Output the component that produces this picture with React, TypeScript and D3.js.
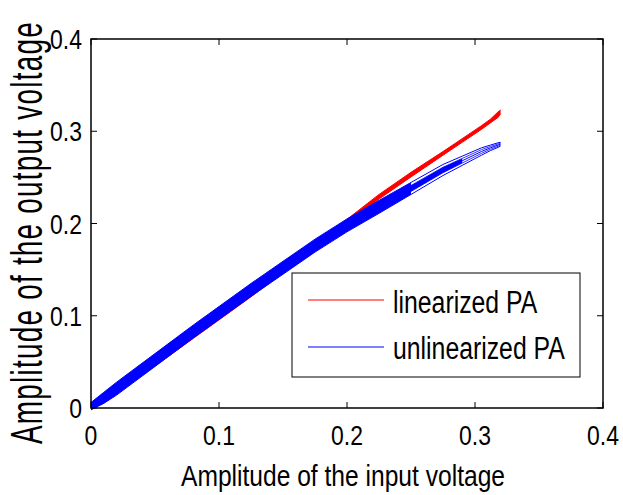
import React from "react";
import * as d3 from "d3";

// Amplitude of the input voltage (sample positions along each trace)
const inputAmp = [0, 0.01, 0.02, 0.05, 0.08, 0.1, 0.125, 0.15, 0.175, 0.2, 0.225, 0.25, 0.275, 0.29, 0.305, 0.312, 0.318, 0.32];
// linearized PA: centre of the trace band and its half-thickness
const linearizedOut = [0.001, 0.009, 0.019, 0.048, 0.078, 0.098, 0.123, 0.149, 0.176, 0.202, 0.229, 0.253, 0.276, 0.29, 0.304, 0.311, 0.318, 0.321];
const linearizedSpread = [0.002, 0.0025, 0.0025, 0.0025, 0.0025, 0.0025, 0.0025, 0.0025, 0.0025, 0.0025, 0.0025, 0.0025, 0.002, 0.002, 0.002, 0.002, 0.003, 0.002];
// unlinearized PA: centre of the trace band and its half-thickness
const unlinearizedOut = [0.002, 0.011, 0.021, 0.052, 0.083, 0.103, 0.128, 0.152, 0.176, 0.198, 0.218, 0.238, 0.258, 0.268, 0.278, 0.282, 0.285, 0.286];
const unlinearizedSpread = [0.004, 0.006, 0.007, 0.007, 0.007, 0.007, 0.007, 0.007, 0.007, 0.007, 0.007, 0.0065, 0.006, 0.005, 0.004, 0.003, 0.0025, 0.002];
// input amplitudes where the unlinearized band starts to open up into separate thin loops
const bandOpenStart = 0.25;
const bandOpenEnd = 0.29;

const xTicks = [0, 0.1, 0.2, 0.3, 0.4];
const yTicks = [0, 0.1, 0.2, 0.3, 0.4];
const xTickLabels = ["0", "0.1", "0.2", "0.3", "0.4"];
const yTickLabels = ["0", "0.1", "0.2", "0.3", "0.4"];
const seriesNames = ["linearized PA", "unlinearized PA"];
const seriesColors = ["#ff0000", "#0000ff"];
const xTitle = "Amplitude of the input voltage";
const yTitle = "Amplitude of the output voltage";

const W = 623;
const H = 495;
const L = 91, R = 603, T = 39, B = 408;

type P = { x: number; lo: number; hi: number; c: number };

export default function App() {
  const x = d3.scaleLinear().domain([0, 0.4]).range([L, R]);
  const y = d3.scaleLinear().domain([0, 0.4]).range([B, T]);

  const mk = (center: number[], spread: number[]): P[] =>
    inputAmp.map((v, i) => ({ x: v, lo: center[i] - spread[i], hi: center[i] + spread[i], c: center[i] }));

  const redPts = mk(linearizedOut, linearizedSpread);
  const bluePts = mk(unlinearizedOut, unlinearizedSpread);

  const area = d3.area<P>().x((d) => x(d.x)).y0((d) => y(d.lo)).y1((d) => y(d.hi));
  const areaInner = d3
    .area<P>()
    .x((d) => x(d.x))
    .y0((d) => y((d.c + d.lo) / 2))
    .y1((d) => y((d.c + d.hi) / 2));
  const lineHi = d3.line<P>().x((d) => x(d.x)).y((d) => y(d.hi));
  const lineLo = d3.line<P>().x((d) => x(d.x)).y((d) => y(d.lo));
  const lineC = d3.line<P>().x((d) => x(d.x)).y((d) => y(d.c));
  const lineM1 = d3.line<P>().x((d) => x(d.x)).y((d) => y((d.c + d.hi) / 2));
  const lineM2 = d3.line<P>().x((d) => x(d.x)).y((d) => y((d.c + d.lo) / 2));

  const blueFilled = bluePts.filter((d) => d.x <= bandOpenStart);
  const blueInner = bluePts.filter((d) => d.x <= bandOpenEnd);

  const font = "'Liberation Sans', Arial, Helvetica, sans-serif";
  const tickLen = 6;

  return (
    <svg
      width={W}
      height={H}
      style={{ position: "absolute", left: 0, top: 0, display: "block", background: "#fff" }}
    >
      <rect x={0} y={0} width={W} height={H} fill="#fff" />

      {/* linearized PA */}
      <path d={area(redPts) || ""} fill={seriesColors[0]} stroke="none" />
      <path d={lineHi(redPts) || ""} fill="none" stroke={seriesColors[0]} strokeWidth={1} />
      <path d={lineLo(redPts) || ""} fill="none" stroke={seriesColors[0]} strokeWidth={1} />

      {/* unlinearized PA */}
      <path d={area(blueFilled) || ""} fill={seriesColors[1]} stroke="none" />
      <path d={areaInner(blueInner) || ""} fill={seriesColors[1]} stroke="none" />
      <path d={lineHi(bluePts) || ""} fill="none" stroke={seriesColors[1]} strokeWidth={1} />
      <path d={lineLo(bluePts) || ""} fill="none" stroke={seriesColors[1]} strokeWidth={1} />
      <path d={lineC(bluePts) || ""} fill="none" stroke={seriesColors[1]} strokeWidth={1} />
      <path d={lineM1(bluePts) || ""} fill="none" stroke={seriesColors[1]} strokeWidth={0.8} />
      <path d={lineM2(bluePts) || ""} fill="none" stroke={seriesColors[1]} strokeWidth={0.8} />

      {/* axes box */}
      <rect x={L} y={T} width={R - L} height={B - T} fill="none" stroke="#000" strokeWidth={1.5} />

      {/* ticks */}
      {xTicks.map((t, i) => (
        <g key={"xt" + i}>
          <line x1={x(t)} x2={x(t)} y1={B} y2={B - tickLen} stroke="#000" strokeWidth={1} />
          <line x1={x(t)} x2={x(t)} y1={T} y2={T + tickLen} stroke="#000" strokeWidth={1} />
          <text
            transform={`translate(${x(t)},${B + 37}) scale(0.82,1)`}
            textAnchor="middle"
            fontFamily={font}
            fontSize={28}
            fill="#000"
          >
            {xTickLabels[i]}
          </text>
        </g>
      ))}
      {yTicks.map((t, i) => (
        <g key={"yt" + i}>
          <line x1={L} x2={L + tickLen} y1={y(t)} y2={y(t)} stroke="#000" strokeWidth={1} />
          <line x1={R} x2={R - tickLen} y1={y(t)} y2={y(t)} stroke="#000" strokeWidth={1} />
          <text
            transform={`translate(82,${y(t) + 10}) scale(0.82,1)`}
            textAnchor="end"
            fontFamily={font}
            fontSize={28}
            fill="#000"
          >
            {yTickLabels[i]}
          </text>
        </g>
      ))}

      {/* axis titles */}
      <text
        transform={`translate(343,486) scale(0.82,1)`}
        textAnchor="middle"
        fontFamily={font}
        fontSize={30}
        fill="#000"
      >
        {xTitle}
      </text>
      <text
        transform={`translate(42,444) rotate(-90) scale(0.62,1)`}
        textAnchor="start"
        fontFamily={font}
        fontSize={45}
        letterSpacing={2}
        fill="#000"
      >
        {yTitle}
      </text>

      {/* legend */}
      <rect x={292} y={273} width={288} height={104} fill="#fff" stroke="#000" strokeWidth={1} />
      {seriesNames.map((name, i) => (
        <g key={"lg" + i}>
          <line x1={308} x2={384} y1={300 + i * 47} y2={300 + i * 47} stroke={seriesColors[i]} strokeWidth={1} />
          <text
            transform={`translate(393,${313 + i * 46}) scale(0.8,1)`}
            fontFamily={font}
            fontSize={31}
            fill="#000"
          >
            {name}
          </text>
        </g>
      ))}
    </svg>
  );
}
